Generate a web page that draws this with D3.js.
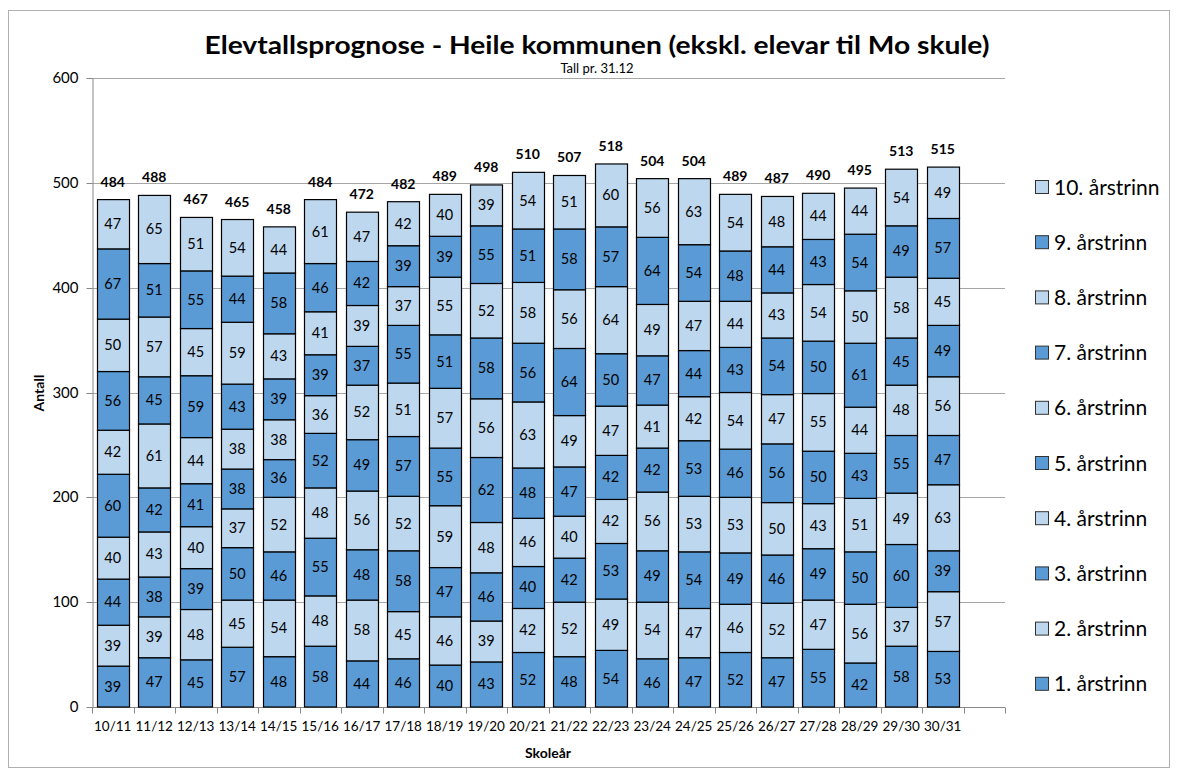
<!DOCTYPE html>
<html><head><meta charset="utf-8">
<script src="https://cdn.jsdelivr.net/npm/d3@7"></script>
<style>body{margin:0;background:#fff;} svg{display:block;font-family:Lato,"Open Sans",sans-serif;}</style>
</head><body>
<svg id="c" width="1178" height="776"></svg>
<script>
const categories = ["10/11","11/12","12/13","13/14","14/15","15/16","16/17","17/18","18/19","19/20","20/21","21/22","22/23","23/24","24/25","25/26","26/27","27/28","28/29","29/30","30/31"];
const seriesNames = ["1. årstrinn","2. årstrinn","3. årstrinn","4. årstrinn","5. årstrinn","6. årstrinn","7. årstrinn","8. årstrinn","9. årstrinn","10. årstrinn"];
const g1  = [39,47,45,57,48,58,44,46,40,43,52,48,54,46,47,52,47,55,42,58,53];
const g2  = [39,39,48,45,54,48,58,45,46,39,42,52,49,54,47,46,52,47,56,37,57];
const g3  = [44,38,39,50,46,55,48,58,47,46,40,42,53,49,54,49,46,49,50,60,39];
const g4  = [40,43,40,37,52,48,56,52,59,48,46,40,42,56,53,53,50,43,51,49,63];
const g5  = [60,42,41,38,36,52,49,57,55,62,48,47,42,42,53,46,56,50,43,55,47];
const g6  = [42,61,44,38,38,36,52,51,57,56,63,49,47,41,42,54,47,55,44,48,56];
const g7  = [56,45,59,43,39,39,37,55,51,58,56,64,50,47,44,43,54,50,61,45,49];
const g8  = [50,57,45,59,43,41,39,37,55,52,58,56,64,49,47,44,43,54,50,58,45];
const g9  = [67,51,55,44,58,46,42,39,39,55,51,58,57,64,54,48,44,43,54,49,57];
const g10 = [47,65,51,54,44,61,47,42,40,39,54,51,60,56,63,54,48,44,44,54,49];
const totals = [484,488,467,465,458,484,472,482,489,498,510,507,518,504,504,489,487,490,495,513,515];
const yTicks = [0,100,200,300,400,500,600];
const seriesValues = [g1,g2,g3,g4,g5,g6,g7,g8,g9,g10];
const DARK = "#5B9BD5", LIGHT = "#BDD7EE";
const colors = seriesNames.map((d,i)=> i%2===0 ? DARK : LIGHT);

const svg = d3.select("#c");
const pL = 92, pR = 1005, pT = 78, pB = 707;

// outer border
svg.append("rect").attr("x",8.5).attr("y",10.5).attr("width",1161).attr("height",757)
  .attr("fill","none").attr("stroke","#B0B0B0").attr("stroke-width",1);

const slots = categories.concat([""]);
const x = d3.scaleBand().domain(slots.map((d,i)=>i)).range([pL,pR]).paddingInner(0).paddingOuter(0);
const y = d3.scaleLinear().domain([0,600]).range([pB,pT]);
const barW = x.bandwidth()*0.77;

// gridlines
svg.append("g").selectAll("line").data(yTicks.filter(d=>d>0)).join("line")
  .attr("x1",pL).attr("x2",pR).attr("y1",d=>Math.round(y(d))+0.5).attr("y2",d=>Math.round(y(d))+0.5)
  .attr("stroke","#A6A6A6").attr("stroke-width",1);

// y axis
const yAxis = svg.append("g").attr("transform",`translate(${pL+0.5},0)`)
  .call(d3.axisLeft(y).tickValues(yTicks).tickSize(6).tickPadding(8).tickSizeOuter(0));
yAxis.select(".domain").attr("stroke","#888");
yAxis.selectAll(".tick line").attr("stroke","#888");
yAxis.selectAll("text").attr("font-size",15).attr("fill","#000").attr("font-family","Lato");
yAxis.selectAll(".tick").attr("transform",d=>`translate(0,${Math.round(y(d))+0.5})`);

// x axis
const xg = svg.append("g").attr("transform",`translate(0,${pB+0.5})`);
xg.append("line").attr("x1",pL).attr("x2",pR).attr("stroke","#888");
xg.selectAll("line.t").data(d3.range(slots.length+1)).join("line").attr("class","t")
  .attr("x1",i=>Math.round(pL + i*x.step())+0.5).attr("x2",i=>Math.round(pL + i*x.step())+0.5)
  .attr("y1",0).attr("y2",6).attr("stroke","#888");
xg.selectAll("text").data(categories).join("text")
  .attr("x",(d,i)=>x(i)+x.bandwidth()/2).attr("y",23).attr("text-anchor","middle")
  .attr("font-size",13.5).text(d=>d);

// stack
const rows = categories.map((c,i)=>{ const o={i}; seriesValues.forEach((s,k)=>o[k]=s[i]); return o; });
const stack = d3.stack().keys(d3.range(10))(rows);

const gBars = svg.append("g");
stack.forEach((layer,k)=>{
  const g = gBars.append("g");
  g.selectAll("rect").data(layer).join("rect")
    .attr("x",d=>Math.round(x(d.data.i)+(x.bandwidth()-barW)/2)+0.5)
    .attr("width",Math.round(barW))
    .attr("y",d=>y(d[1]))
    .attr("height",d=>y(d[0])-y(d[1]))
    .attr("fill",colors[k]).attr("stroke","#000").attr("stroke-width",1.2);
  g.selectAll("text").data(layer).join("text")
    .attr("x",d=>x(d.data.i)+x.bandwidth()/2)
    .attr("y",d=>(y(d[0])+y(d[1]))/2+5)
    .attr("text-anchor","middle").attr("font-size",14.5).attr("fill","#000")
    .text(d=>d[1]-d[0]);
});

// totals
svg.append("g").selectAll("text").data(totals).join("text")
  .attr("x",(d,i)=>x(i)+x.bandwidth()/2).attr("y",d=>y(d)-13)
  .attr("text-anchor","middle").attr("font-size",14).attr("font-weight","bold").text(d=>d);

// title
svg.append("text").attr("x",597).attr("y",54).attr("text-anchor","middle")
  .attr("font-size",24).attr("font-weight","bold")
  .attr("textLength",785).attr("lengthAdjust","spacingAndGlyphs")
  .text("Elevtallsprognose - Heile kommunen (ekskl. elevar til Mo skule)");
svg.append("text").attr("x",597).attr("y",73).attr("text-anchor","middle")
  .attr("font-size",13).text("Tall pr. 31.12");

// axis titles
svg.append("text").attr("transform","translate(44,393) rotate(-90)").attr("text-anchor","middle")
  .attr("font-size",14).attr("font-weight","bold").text("Antall");
svg.append("text").attr("x",548).attr("y",758).attr("text-anchor","middle")
  .attr("font-size",14).attr("font-weight","bold").text("Skoleår");

// legend (top = 10. årstrinn)
const legOrder = d3.range(9,-1,-1);
const lg = svg.append("g");
legOrder.forEach((k,j)=>{
  const cy = 187 + j*55.2;
  lg.append("rect").attr("x",1035.5).attr("y",cy-6.5).attr("width",13).attr("height",13)
    .attr("fill",colors[k]).attr("stroke","#333").attr("stroke-width",1);
  lg.append("text").attr("x",1054).attr("y",cy+7.5).attr("font-size",21).text(seriesNames[k]);
});
</script>
</body></html>
